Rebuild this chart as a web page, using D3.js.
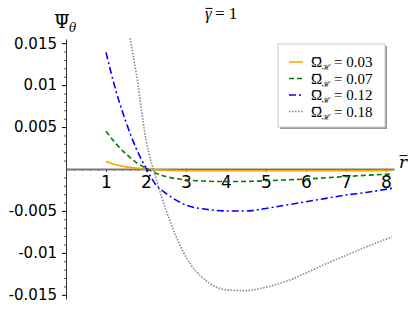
<!DOCTYPE html>
<html>
<head>
<meta charset="utf-8">
<script src="https://cdn.jsdelivr.net/npm/d3@7"></script>
<style>
  body { margin: 0; background: #fff; }
  svg { display: block; }
</style>
</head>
<body>
<div id="chart"></div>
<script>
// r values shared by the first three curves
const rValues = [1, 1.25, 1.5, 1.75, 2, 2.25, 2.5, 3, 3.5, 4, 4.5, 5, 5.5, 6, 6.5, 7, 7.5, 8.15];
const psi003 = [0.0009, 0.0005, 0.00025, 0.0001, 0.0, -0.0001, -0.00015, -0.0002, -0.0002, -0.0002, -0.0002, -0.0002, -0.0002, -0.0002, -0.0002, -0.0002, -0.0002, -0.00018];
const psi007 = [0.0045, 0.003, 0.0018, 0.0008, 0.0001, -0.0005, -0.0009, -0.0013, -0.00145, -0.0015, -0.00148, -0.0014, -0.0013, -0.0012, -0.00105, -0.0009, -0.00075, -0.0006];
const psi012 = [0.0139, 0.0093, 0.0056, 0.0025, 0.0001, -0.0019, -0.0029, -0.0043, -0.0048, -0.005, -0.005, -0.0047, -0.0043, -0.0039, -0.0035, -0.0031, -0.0028, -0.0023];
// the dotted curve enters the frame later
const rValues018 = [1.6, 1.75, 2, 2.25, 2.5, 2.75, 3, 3.5, 4, 4.5, 5, 5.5, 6, 6.5, 7, 7.5, 8.15];
const psi018 = [0.0156, 0.0116, 0.0035, -0.0011, -0.0049, -0.008, -0.0105, -0.0133, -0.0144, -0.0145, -0.0141, -0.0134, -0.0124, -0.0113, -0.0103, -0.0093, -0.0081];

const legendLabels = ["0.03", "0.07", "0.12", "0.18"];
const xTicks = [1, 2, 3, 4, 5, 6, 7, 8];
const yTicks = [-0.015, -0.01, -0.005, 0.005, 0.01, 0.015];
const yTickLabels = ["-0.015", "-0.01", "-0.005", "0.005", "0.01", "0.015"];

const width = 416;
const height = 312;

const svg = d3
  .select("#chart")
  .append("svg")
  .attr("width", width)
  .attr("height", height);

const x = d3.scaleLinear().domain([0, 8.2]).range([66, 394]);
const y = d3.scaleLinear().domain([-0.0155, 0.0155]).range([299, 39]);

// draws a bar (macron) over a text node
function overbar(sel, inset = 1.5, lift = 1) {
  const b = sel.node().getBBox();
  svg
    .append("line")
    .attr("x1", b.x + inset)
    .attr("x2", b.x + b.width - inset)
    .attr("y1", b.y + b.height * 0.18 - lift)
    .attr("y2", b.y + b.height * 0.18 - lift)
    .attr("stroke", "#000")
    .attr("stroke-width", 1);
}

// minor ticks
const xMinor = d3.range(0.2, 8.2, 0.2).filter((v) => Math.abs(v - Math.round(v)) > 0.01);
const yMinor = d3.range(-0.015, 0.0151, 0.001).filter((v) => Math.abs(v * 200 - Math.round(v * 200)) > 0.01);

svg
  .append("g")
  .attr("transform", "translate(66,0)")
  .call(d3.axisLeft(y).tickValues(yMinor).tickSize(2).tickSizeOuter(0).tickFormat(""))
  .call((g) => g.select(".domain").remove())
  .selectAll("line")
  .attr("stroke", "#555");

svg
  .append("g")
  .attr("transform", `translate(0,${y(0)})`)
  .call(d3.axisBottom(x).tickValues(xMinor).tickSize(2).tickSizeOuter(0).tickFormat(""))
  .call((g) => g.select(".domain").remove())
  .selectAll("line")
  .attr("stroke", "#555");

// y axis
const yAxis = svg
  .append("g")
  .attr("transform", "translate(66,0)")
  .call(
    d3
      .axisLeft(y)
      .tickValues(yTicks)
      .tickSize(4)
      .tickSizeOuter(0)
      .tickPadding(5)
      .tickFormat((d, i) => yTickLabels[i])
  );
yAxis.select(".domain").attr("stroke", "#333");
yAxis
  .selectAll("text")
  .attr("font-family", "DejaVu Sans")
  .attr("font-size", 15)
  .attr("fill", "#000");

// curves
const line = d3
  .line()
  .x((d) => x(d[0]))
  .y((d) => y(d[1]))
  .curve(d3.curveMonotoneX);

svg
  .append("defs")
  .append("clipPath")
  .attr("id", "plot")
  .append("rect")
  .attr("x", 60)
  .attr("y", 37)
  .attr("width", 340)
  .attr("height", 264);

const series = [
  { r: rValues, v: psi003, color: "orange", dash: null },
  { r: rValues, v: psi007, color: "#008000", dash: "5,3" },
  { r: rValues, v: psi012, color: "#0000ff", dash: "7,3,2,3" },
  { r: rValues018, v: psi018, color: "#888888", dash: "1.5,1.5" },
];

// x axis
const xAxis = svg
  .append("g")
  .attr("transform", `translate(0,${y(0)})`)
  .call(d3.axisBottom(x).tickValues(xTicks).tickSize(3).tickSizeOuter(0).tickPadding(4));
xAxis.select(".domain").attr("stroke", "#777").attr("stroke-width", 2);
xAxis.selectAll("line").attr("stroke", "#555");
xAxis
  .selectAll("text")
  .attr("font-family", "DejaVu Sans")
  .attr("font-size", 17)
  .attr("fill", "#000");

svg
  .append("g")
  .attr("clip-path", "url(#plot)")
  .selectAll("path")
  .data(series)
  .enter()
  .append("path")
  .attr("d", (s) => line(s.r.map((r, i) => [r, s.v[i]])))
  .attr("fill", "none")
  .attr("stroke", (s) => s.color)
  .attr("stroke-width", 1.6)
  .attr("stroke-dasharray", (s) => s.dash);

// axis labels and title
const psiLabel = svg
  .append("text")
  .attr("x", 54)
  .attr("y", 28)
  .attr("font-family", "DejaVu Serif")
  .attr("font-size", 18)
  .text("Ψ");
overbar(psiLabel, 2.5, 0);
svg
  .append("text")
  .attr("x", 69)
  .attr("y", 32)
  .attr("font-family", "DejaVu Serif")
  .attr("font-style", "italic")
  .attr("font-size", 12)
  .text("θ");

const rLabel = svg
  .append("text")
  .attr("x", 399)
  .attr("y", 168)
  .attr("font-family", "DejaVu Serif")
  .attr("font-style", "italic")
  .attr("font-size", 17)
  .text("r");
overbar(rLabel, 0.5, 0);

const gammaLabel = svg
  .append("text")
  .attr("x", 205)
  .attr("y", 19)
  .attr("font-family", "Liberation Serif")
  .attr("font-style", "italic")
  .attr("font-size", 17)
  .text("γ");
overbar(gammaLabel, 0.5, -1);
svg
  .append("text")
  .attr("x", 215)
  .attr("y", 19)
  .attr("font-family", "Liberation Serif")
  .attr("font-size", 17)
  .text("= 1");

// legend
const legend = svg.append("g");
legend
  .append("rect")
  .attr("x", 280)
  .attr("y", 46)
  .attr("width", 107)
  .attr("height", 83)
  .attr("fill", "#999");
legend
  .append("rect")
  .attr("x", 278)
  .attr("y", 44)
  .attr("width", 107)
  .attr("height", 83)
  .attr("fill", "#fff")
  .attr("stroke", "#ccc");

series.forEach((s, i) => {
  const cy = 62 + i * 16.5;
  legend
    .append("line")
    .attr("x1", 289)
    .attr("x2", 303)
    .attr("y1", cy)
    .attr("y2", cy)
    .attr("stroke", s.color)
    .attr("stroke-width", 1.6)
    .attr("stroke-dasharray", s.dash);
  const omega = legend
    .append("text")
    .attr("x", 311)
    .attr("y", cy + 5)
    .attr("font-family", "Liberation Serif")
    .attr("font-size", 15)
    .text("Ω");
  overbar(omega, 1.5, -1);
  legend
    .append("text")
    .attr("x", 322)
    .attr("y", cy + 8)
    .attr("font-family", "DejaVu Serif")
    .attr("font-size", 8)
    .text("ℋ");
  legend
    .append("text")
    .attr("x", 334)
    .attr("y", cy + 5)
    .attr("font-family", "Liberation Serif")
    .attr("font-size", 15)
    .text(`= ${legendLabels[i]}`);
});
</script>
</body>
</html>
